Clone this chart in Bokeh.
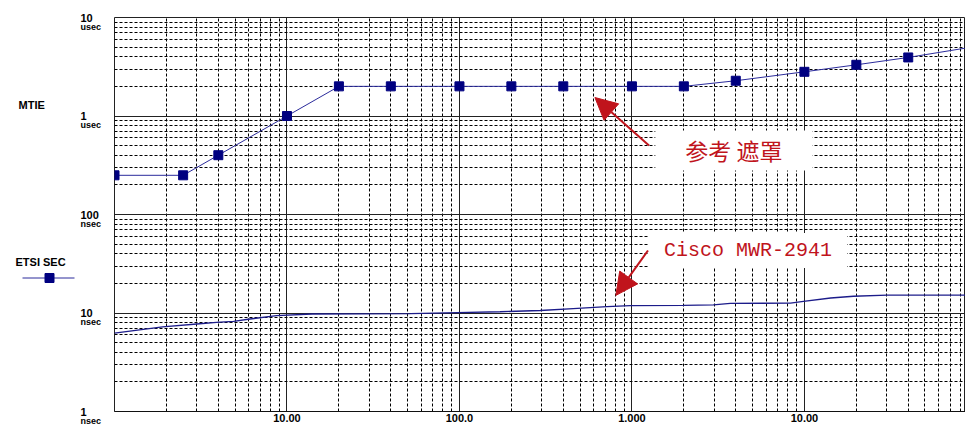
from bokeh.plotting import figure
from bokeh.layouts import row
from bokeh.models import (FixedTicker, Label, Arrow, NormalHead, Range1d)
from bokeh.embed import file_html
from bokeh.resources import INLINE
from bokeh.core.properties import value

# ---------------- data ----------------
# ETSI SEC MTIE reference mask (tau in s, MTIE in usec)
mask_tau = [1, 2.5, 4, 10, 20, 40, 100, 200, 400, 1000, 2000, 4000, 10000, 20000, 40000]
mask_us = [0.25, 0.25, 0.40, 1.0, 2.0, 2.0, 2.0, 2.0, 2.0, 2.0, 2.0, 2.28, 2.81, 3.31, 3.93]
mask_tail_tau = [40000, 86000]
mask_tail_us = [3.93, 4.89]

# Cisco MWR-2941 measured MTIE (tau in s, MTIE in nsec)
cisco_tau = [1, 1.9, 3.0, 3.9, 4.9, 6.1, 8.7, 14, 52, 97, 172, 294, 457, 717, 980,
             1985, 2965, 3720, 8300, 9880, 14200, 19250, 30200, 86000]
cisco_ns = [6.26, 7.22, 7.73, 8.02, 8.21, 8.69, 9.39, 9.77, 9.84, 10.07, 10.3, 10.6,
            11.1, 11.6, 11.86, 11.95, 12.1, 12.5, 12.6, 13.1, 14.2, 14.8, 15.2, 15.2]

x_ticks = [10, 100, 1000, 10000]
x_tick_labels = ["10.00", "100.0", "1.000", "10.00"]

y_ticks = [10000, 1000, 100, 10, 1]
y_tick_nums = ["10", "1", "100", "10", "1"]
y_tick_units = ["usec", "usec", "nsec", "nsec", "nsec"]

series_name = "ETSI SEC"
y_title = "MTIE"
note_mask = "参考 遮罩"
note_cisco = "Cisco MWR-2941"

RED = "#c0141c"
NAVY = "#000080"
LINE_BLUE = "#2b2b9b"
FONT = "Liberation Sans"

mask_ns = [v * 1000 for v in mask_us]
mask_tail_ns = [v * 1000 for v in mask_tail_us]

# layout constants (pixels)
W, H = 965, 427
LEFT = 114          # width of the left label column
TOP, BOTTOM = 17, 16
Y_LO, Y_HI = 1, 10000
X_LO, X_HI = 1, 85900

# ---------------- main chart ----------------
p = figure(width=W - LEFT, height=H, x_axis_type="log", y_axis_type="log",
           x_range=(X_LO, X_HI), y_range=(Y_LO, Y_HI), title=None,
           output_backend="svg", toolbar_location=None,
           min_border_left=0, min_border_right=0, min_border_top=TOP,
           min_border_bottom=BOTTOM)
p.frame_align = False
p.background_fill_color = "white"
p.border_fill_color = "white"
p.outline_line_color = "#222222"

minor_x = [k * 10 ** d for d in range(0, 5) for k in range(2, 10)]
minor_y = [k * 10 ** d for d in range(0, 4) for k in range(2, 10)]

p.xaxis.ticker = FixedTicker(ticks=x_ticks)
p.xaxis.major_label_overrides = {t: l for t, l in zip(x_ticks, x_tick_labels)}
p.xaxis.major_tick_line_color = None
p.xaxis.minor_tick_line_color = None
p.xaxis.major_tick_out = 0
p.xaxis.minor_tick_out = 0
p.xaxis.axis_line_color = "#111111"
p.xaxis.major_label_text_font = FONT
p.xaxis.major_label_text_font_style = "bold"
p.xaxis.major_label_text_font_size = "11px"
p.xaxis.major_label_text_color = "black"
p.xaxis.major_label_standoff = 2
p.yaxis.visible = False

p.xgrid.ticker = FixedTicker(ticks=[1] + x_ticks, minor_ticks=minor_x)
p.ygrid.ticker = FixedTicker(ticks=y_ticks, minor_ticks=minor_y)
for g in (p.xgrid, p.ygrid):
    g.grid_line_color = "#222222"
    g.grid_line_width = 1
    g.grid_line_alpha = 1
    g.minor_grid_line_color = "black"
    g.minor_grid_line_dash = "3 2"
    g.minor_grid_line_width = 1

p.line(mask_tau, mask_ns, line_color=LINE_BLUE, line_width=1)
p.line(mask_tail_tau, mask_tail_ns, line_color=LINE_BLUE, line_width=1)
p.scatter(mask_tau, mask_ns, marker="square", size=9, fill_color=NAVY, line_color=NAVY)
p.line(cisco_tau, cisco_ns, line_color="#1c1c8a", line_width=1.3)

# annotations
p.add_layout(Arrow(x_start=1256, y_start=502, x_end=610, y_end=1541,
                   line_color=RED, line_width=2,
                   end=NormalHead(size=22, fill_color=RED, line_color=RED)))
p.add_layout(Arrow(x_start=1239, y_start=43.1, x_end=807, y_end=15.1,
                   line_color=RED, line_width=2,
                   end=NormalHead(size=22, fill_color=RED, line_color=RED)))
p.add_layout(Label(x=3900, y=447, text=note_mask, text_align="center",
                   text_baseline="middle", text_font="Noto Sans CJK SC",
                   text_font_size="23px", text_color=RED,
                   background_fill_color="white",
                   padding=dict(left=30, right=30, top=3, bottom=3)))
p.add_layout(Label(x=4710, y=43.1, text=note_cisco, text_align="center",
                   text_baseline="middle", text_font="Liberation Mono",
                   text_font_size="20px", text_color=RED,
                   background_fill_color="white",
                   padding=dict(left=15, right=15, top=6, bottom=6)))

# ---------------- left label column ----------------
# y range extended so that its log scale lines up with the main frame
dec_px = (H - TOP - BOTTOM) / 4.0
left_lo = 10 ** (0 - BOTTOM / dec_px)
left_hi = 10 ** (4 + TOP / dec_px)
lf = figure(width=LEFT, height=H, x_range=(0, LEFT), y_axis_type="log",
            y_range=Range1d(left_lo, left_hi), title=None, output_backend="svg",
            toolbar_location=None, min_border=0, min_border_left=0,
            min_border_right=0, min_border_top=0, min_border_bottom=0)
lf.frame_align = False
lf.axis.visible = False
lf.grid.visible = False
lf.outline_line_color = None
lf.background_fill_color = "white"
lf.border_fill_color = "white"

lf.text(x=[80] * len(y_ticks), y=y_ticks, text=y_tick_nums,
        text_font=value(FONT), text_font_style="bold", text_font_size="11px",
        text_baseline="alphabetic", text_align="left", text_color="black")
lf.text(x=[80] * len(y_ticks), y=y_ticks, text=y_tick_units, y_offset=9,
        text_font=value(FONT), text_font_style="bold", text_font_size="9px",
        text_baseline="alphabetic", text_align="left", text_color="black")

lf.text(x=[18], y=[1000], text=[y_title], y_offset=-11,
        text_font=value(FONT), text_font_style="bold", text_font_size="11px",
        text_baseline="middle", text_align="left", text_color="black")
lf.text(x=[15], y=[10], text=[series_name], y_offset=-51,
        text_font=value(FONT), text_font_style="bold", text_font_size="11px",
        text_baseline="middle", text_align="left", text_color="black")
# legend key: line with a square marker
key_y = [10 * 10 ** (35 / dec_px)]
lf.line(x=[22, 74], y=key_y * 2, line_color=LINE_BLUE, line_width=1)
lf.scatter(x=[49], y=key_y, marker="square", size=9, fill_color=NAVY, line_color=NAVY)

layout = row(lf, p, spacing=0)
open("out.html", "w").write(file_html(layout, INLINE))
